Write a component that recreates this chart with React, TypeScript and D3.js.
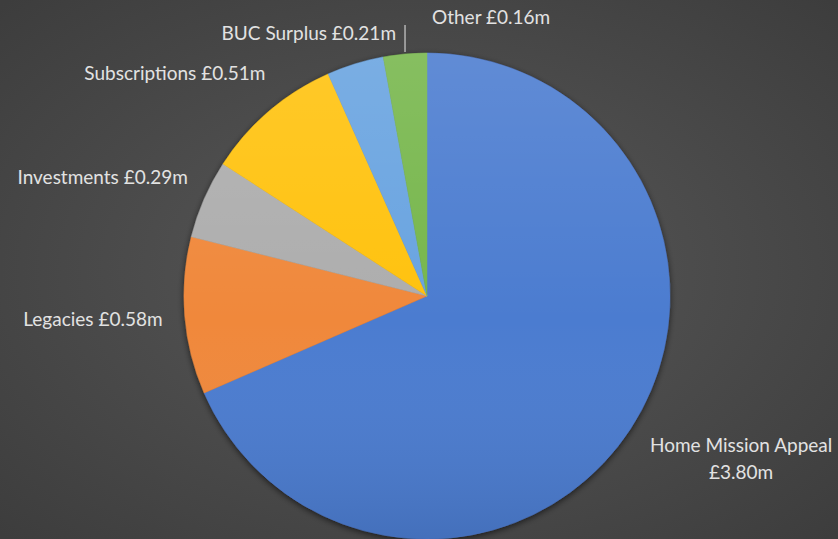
import React from 'react';
import * as d3 from 'd3';

const W = 838;
const H = 539;

const categories = ['Home Mission Appeal', 'Legacies', 'Investments', 'Subscriptions', 'BUC Surplus', 'Other'];
const values = [3.8, 0.58, 0.29, 0.51, 0.21, 0.16];
const colors = ['#4c7bd0', '#f0883a', '#adadad', '#ffc20e', '#68a3e0', '#76b64c'];

// label placement: angle-based anchor plus small nudges (Excel "best fit" look)
const labelLayout = [
  { r: 1.28, dx: 54, dy: -15, anchor: 'middle', twoLine: true },
  { r: 1.1, dx: 2, dy: 3, anchor: 'end', twoLine: false },
  { r: 1.1, dx: 6, dy: -10, anchor: 'end', twoLine: false },
  { r: 1.15, dx: 20, dy: -8, anchor: 'end', twoLine: false },
  { r: 1.1, dx: 48, dy: -5, anchor: 'end', twoLine: false },
  { r: 1.0, dx: 27, dy: -35, anchor: 'start', twoLine: false },
];

const fmt = (v: number) => `£${v.toFixed(2)}m`;

const App: React.FC = () => {
  const cx = 427;
  const cy = 296;
  const radius = 243;

  const pie = d3.pie<number>().sort(null).value(d => d);
  const arcs = pie(values);
  const arc = d3.arc<d3.PieArcDatum<number>>().innerRadius(0).outerRadius(radius);

  const labelPos = (i: number) => {
    const a = arcs[i];
    const mid = (a.startAngle + a.endAngle) / 2;
    const L = labelLayout[i];
    const x = Math.sin(mid) * radius * L.r + L.dx;
    const y = -Math.cos(mid) * radius * L.r + L.dy;
    return { x, y, mid };
  };

  return (
    <svg width={W} height={H} style={{ display: 'block', position: 'absolute', left: 0, top: 0 }}>
      <defs>
        <radialGradient id="bg" cx="50%" cy="50%" r="70%">
          <stop offset="0%" stopColor="#595959" />
          <stop offset="100%" stopColor="#3d3d3d" />
        </radialGradient>
        <linearGradient id="shade" x1="0" y1="0" x2="0" y2="1">
          <stop offset="0%" stopColor="#ffffff" stopOpacity={0.12} />
          <stop offset="55%" stopColor="#ffffff" stopOpacity={0} />
          <stop offset="100%" stopColor="#000000" stopOpacity={0.1} />
        </linearGradient>
        <filter id="shadow" x="-20%" y="-20%" width="140%" height="140%">
          <feGaussianBlur in="SourceAlpha" stdDeviation="3" />
          <feOffset dx="0" dy="2" result="b" />
          <feComponentTransfer>
            <feFuncA type="linear" slope="0.6" />
          </feComponentTransfer>
          <feMerge>
            <feMergeNode />
            <feMergeNode in="SourceGraphic" />
          </feMerge>
        </filter>
      </defs>
      <rect width={W} height={H} fill="url(#bg)" />
      <g transform={`translate(${cx},${cy})`}>
        <g filter="url(#shadow)">
          {arcs.map((a, i) => (
            <path key={categories[i]} d={arc(a) || ''} fill={colors[i]} stroke={colors[i]} strokeWidth={0.5} />
          ))}
        </g>
        <circle r={radius} fill="url(#shade)" />
        {/* leader line for the small "Other" slice */}
        {(() => {
          const a = arcs[5];
          const mid = (a.startAngle + a.endAngle) / 2;
          const x = Math.sin(mid) * radius;
          return <line x1={x} x2={x} y1={-radius - 1} y2={-radius - 28} stroke="#c4c4c4" strokeWidth={1.3} />;
        })()}
        {arcs.map((a, i) => {
          const p = labelPos(i);
          const L = labelLayout[i];
          const style = {
            fontFamily: 'Lato, "Open Sans", sans-serif',
            fontSize: 19,
            fill: '#e2e2e2',
          };
          if (L.twoLine) {
            return (
              <text key={categories[i]} x={p.x} y={p.y} textAnchor={L.anchor} style={style}>
                <tspan x={p.x} dy="0">{categories[i]}</tspan>
                <tspan x={p.x} dy="27">{fmt(values[i])}</tspan>
              </text>
            );
          }
          return (
            <text key={categories[i]} x={p.x} y={p.y} textAnchor={L.anchor} dominantBaseline="middle" style={style}>
              {`${categories[i]} ${fmt(values[i])}`}
            </text>
          );
        })}
      </g>
    </svg>
  );
};

export default App;
